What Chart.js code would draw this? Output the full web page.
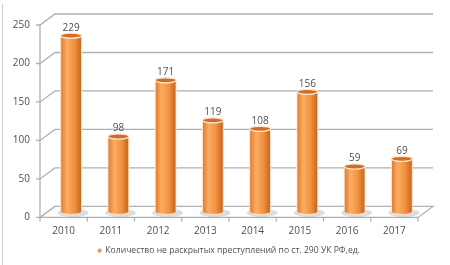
<!DOCTYPE html>
<html>
<head>
<meta charset="utf-8">
<script src="https://cdn.jsdelivr.net/npm/chart.js@4"></script>
<style>
	html, body { margin: 0; padding: 0; background: #fff; }
	#wrap { width: 450px; height: 265px; position: relative; }
</style>
</head>
<body>
<div id="wrap"><canvas id="chart"></canvas></div>
<script>
const years = ['2010', '2011', '2012', '2013', '2014', '2015', '2016', '2017'];
const values = [229, 98, 171, 119, 108, 156, 59, 69];
const yTicks = [0, 50, 100, 150, 200, 250];
const seriesLabel = 'Количество не раскрытых преступлений по ст. 290 УК РФ,ед.';

// 3d depth of the plot box
const depthX = 15;
const depthY = -11;
const gridColor = '#b0b0b0';
const textColor = '#505050';

function drawCylinder(ctx, cx, top, bottom, w) {
	const r = w / 2;
	const ry = 2.5;

	// floor shadow
	ctx.save();
	ctx.fillStyle = 'rgba(130,145,165,0.3)';
	ctx.beginPath();
	ctx.ellipse(cx + 2, bottom + 1, r + 5, ry + 1.5, 0, 0, Math.PI * 2);
	ctx.fill();
	ctx.restore();

	const g = ctx.createLinearGradient(cx - r, 0, cx + r, 0);
	g.addColorStop(0, '#e2782c');
	g.addColorStop(0.3, '#fbad64');
	g.addColorStop(0.65, '#f2923f');
	g.addColorStop(1, '#c8621e');

	ctx.beginPath();
	ctx.moveTo(cx - r, top);
	ctx.lineTo(cx - r, bottom);
	ctx.ellipse(cx, bottom, r, ry, 0, Math.PI, 0, true);
	ctx.lineTo(cx + r, top);
	ctx.ellipse(cx, top, r, ry, 0, 0, Math.PI, false);
	ctx.closePath();
	ctx.fillStyle = g;
	ctx.fill();
	ctx.strokeStyle = 'rgba(255,232,205,0.9)';
	ctx.lineWidth = 1;
	ctx.stroke();

	// top cap
	ctx.beginPath();
	ctx.ellipse(cx, top, r, ry, 0, 0, Math.PI * 2);
	ctx.fillStyle = '#cf6d27';
	ctx.fill();
	ctx.strokeStyle = '#fde4c9';
	ctx.lineWidth = 1.2;
	ctx.stroke();
}

const frame3d = {
	id: 'frame3d',
	beforeDraw(chart) {
		const ctx = chart.ctx;
		ctx.save();
		ctx.strokeStyle = '#cfcfcf';
		ctx.lineWidth = 1;
		ctx.beginPath();
		ctx.moveTo(2.5, 4);
		ctx.lineTo(2.5, chart.height);
		ctx.stroke();
		ctx.restore();
	},
	beforeDatasetsDraw(chart) {
		const ctx = chart.ctx;
		const area = chart.chartArea;
		const y = chart.scales.y;
		const base = y.getPixelForValue(0);

		ctx.save();
		ctx.strokeStyle = gridColor;
		ctx.lineWidth = 1.3;

		// back wall grid + diagonals + left ticks
		yTicks.forEach(v => {
			const py = y.getPixelForValue(v);
			ctx.beginPath();
			ctx.moveTo(area.left - 4, py);
			ctx.lineTo(area.left, py);
			ctx.lineTo(area.left + depthX, py + depthY);
			if (v > 0) ctx.lineTo(area.right + depthX, py + depthY);
			ctx.stroke();
		});

		// front axis
		ctx.beginPath();
		ctx.moveTo(area.left, y.getPixelForValue(250));
		ctx.lineTo(area.left, base);
		ctx.stroke();

		// floor
		ctx.beginPath();
		ctx.moveTo(area.left, base);
		ctx.lineTo(area.right, base);
		ctx.lineTo(area.right + depthX, base + depthY);
		ctx.lineTo(area.left + depthX, base + depthY);
		ctx.closePath();
		ctx.fillStyle = '#ffffff';
		ctx.fill();
		ctx.stroke();

		// category ticks under the floor
		const step = (area.right - area.left) / years.length;
		for (let i = 0; i <= years.length; i++) {
			const px = area.left + step * i;
			ctx.beginPath();
			ctx.moveTo(px, base);
			ctx.lineTo(px, base + 4);
			ctx.stroke();
		}
		ctx.restore();
	},
	beforeDatasetDraw() {
		// bars are drawn as cylinders below
		return false;
	},
	afterDatasetsDraw(chart) {
		const ctx = chart.ctx;
		const meta = chart.getDatasetMeta(0);
		ctx.save();
		meta.data.forEach((bar, i) => {
			const cx = bar.x + depthX / 2;
			const top = bar.y + depthY / 2;
			const bottom = bar.base + depthY / 2;
			drawCylinder(ctx, cx, top, bottom, bar.width);

			ctx.fillStyle = textColor;
			ctx.font = '10px "Open Sans"';
			ctx.textAlign = 'center';
			ctx.textBaseline = 'bottom';
			ctx.fillText(values[i], cx, top - 3);
		});
		ctx.restore();
	}
};

const chart = new Chart(document.getElementById('chart'), {
	type: 'bar',
	data: {
		labels: years,
		datasets: [{
			label: seriesLabel,
			data: values,
			backgroundColor: '#f39a48',
			borderWidth: 0,
			barPercentage: 0.88,
			categoryPercentage: 0.5
		}]
	},
	options: {
		responsive: true,
		maintainAspectRatio: false,
		animation: false,
		layout: { padding: { left: 10, right: 32, top: 25, bottom: 0 } },
		scales: {
			y: {
				min: 0,
				max: 250,
				ticks: {
					stepSize: 50,
					padding: 10,
					color: textColor,
					font: { family: 'Open Sans', size: 10 }
				},
				grid: { display: false, drawTicks: false },
				border: { display: false },
				afterFit(scale) { scale.width = 30; }
			},
			x: {
				ticks: {
					padding: 8,
					color: textColor,
					font: { family: 'Open Sans', size: 10 }
				},
				grid: { display: false, drawTicks: false },
				border: { display: false },
				afterFit(scale) { scale.height = 23; }
			}
		},
		plugins: {
			legend: {
				position: 'bottom',
				fullSize: false,
				labels: {
					usePointStyle: true,
					pointStyle: 'circle',
					boxWidth: 3,
					boxHeight: 3,
					padding: 6,
					color: textColor,
					font: { family: 'Open Sans', size: 8.6 }
				}
			},
			tooltip: { enabled: false }
		}
	},
	plugins: [frame3d]
});
</script>
</body>
</html>
